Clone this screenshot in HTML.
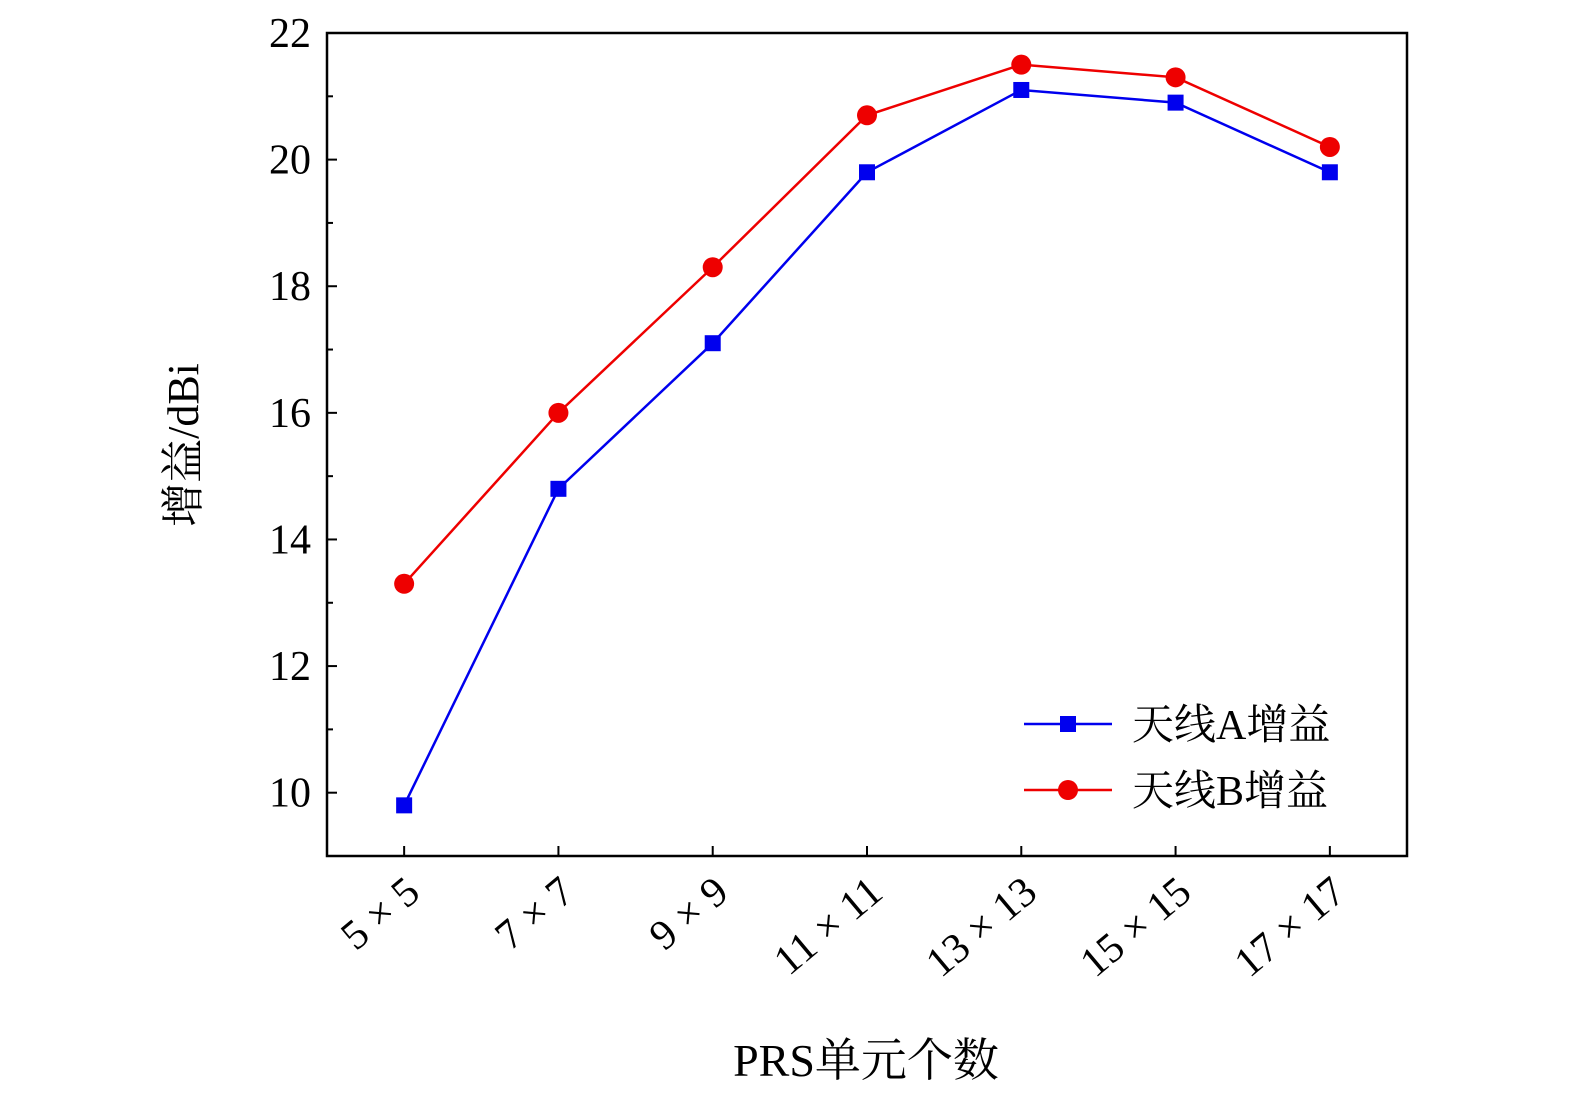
<!DOCTYPE html>
<html><head><meta charset="utf-8"><style>
body{margin:0;background:#fff}
text{font-family:"Liberation Serif","Noto Serif CJK SC",serif;fill:#000}
</style></head><body>
<svg id="chart" width="1575" height="1102" xmlns="http://www.w3.org/2000/svg">
<g id="axes"></g>
<g id="series"></g>
<g id="legend"></g>
</svg>
<script>
const categories=["5×5","7×7","9×9","11×11","13×13","15×15","17×17"];
const seriesA=[9.8,14.8,17.1,19.8,21.1,20.9,19.8];
const seriesB=[13.3,16.0,18.3,20.7,21.5,21.3,20.2];
const yTicks=[10,12,14,16,18,20,22];
const yMinor=[9,11,13,15,17,19,21];
const L=327,R=1407,T=33,B=856,yMin=9,yMax=22;
const NS="http://www.w3.org/2000/svg";
const xS=i=>L+(i+0.5)*(R-L)/categories.length;
const yS=v=>B-(v-yMin)*(B-T)/(yMax-yMin);
function mk(p,tag,at){const e=document.createElementNS(NS,tag);for(const k in at)e.setAttribute(k,at[k]);p.appendChild(e);return e;}
const ax=document.getElementById('axes');
const frame=mk(ax,'rect',{x:L,y:T,width:R-L,height:B-T,fill:'none',stroke:'#000','stroke-width':2.5});


yTicks.forEach(v=>{
 const t=mk(ax,'line',{x1:L,x2:L+10,y1:yS(v),y2:yS(v),stroke:'#000','stroke-width':2});
 
 
 const tx=mk(ax,'text',{x:L-16,y:yS(v)+14,'text-anchor':'end','font-size':42});
 tx.textContent=v;
 
 
});
yMinor.forEach(v=>{
 const t=mk(ax,'line',{x1:L,x2:L+6,y1:yS(v),y2:yS(v),stroke:'#000','stroke-width':2});
 
 
});
categories.forEach((c,i)=>{
 const x=xS(i);
 const t=mk(ax,'line',{x1:x,x2:x,y1:B,y2:B-10,stroke:'#000','stroke-width':2});
 
 
 const tx=mk(ax,'text',{x:x+18,y:B+40,'text-anchor':'end','font-size':42,transform:`rotate(-40 ${x+18} ${B+40})`});
 tx.textContent=c.replace('×',' × ');
 
 
});
const yt=mk(ax,'text',{x:198,y:445,'text-anchor':'middle','font-size':44,transform:'rotate(-90 198 445)'});
yt.textContent='增益/dBi';


const xt=mk(ax,'text',{x:866,y:1076,'text-anchor':'middle','font-size':46});
xt.textContent='PRS单元个数';


const sg=document.getElementById('series');
function drawSeries(data,color,shape,name){
 const pl=mk(sg,'polyline',{points:data.map((v,i)=>xS(i)+','+yS(v)).join(' '),fill:'none',stroke:color,'stroke-width':2.5});
 
 
 data.forEach((v,i)=>{
  let m;
  if(shape==='sq')m=mk(sg,'rect',{x:xS(i)-8,y:yS(v)-8,width:16,height:16,fill:color});
  else m=mk(sg,'circle',{cx:xS(i),cy:yS(v),r:10,fill:color});
  
  
 });
}
drawSeries(seriesA,'#0000ee','sq','antenna-a');
drawSeries(seriesB,'#ee0000','ci','antenna-b');
const lg=document.getElementById('legend');
[['天线A增益','#0000ee','sq',724],['天线B增益','#ee0000','ci',790]].forEach(([lab,c,s,y])=>{
 const l=mk(lg,'line',{x1:1024,x2:1112,y1:y,y2:y,stroke:c,'stroke-width':2.5});
 
 
 const m=s==='sq'?mk(lg,'rect',{x:1060,y:y-8,width:16,height:16,fill:c}):mk(lg,'circle',{cx:1068,cy:y,r:10,fill:c});
 
 
 const t=mk(lg,'text',{x:1132,y:y+15,'font-size':42});
 t.textContent=lab;
 
 
});
</script>
</body></html>
